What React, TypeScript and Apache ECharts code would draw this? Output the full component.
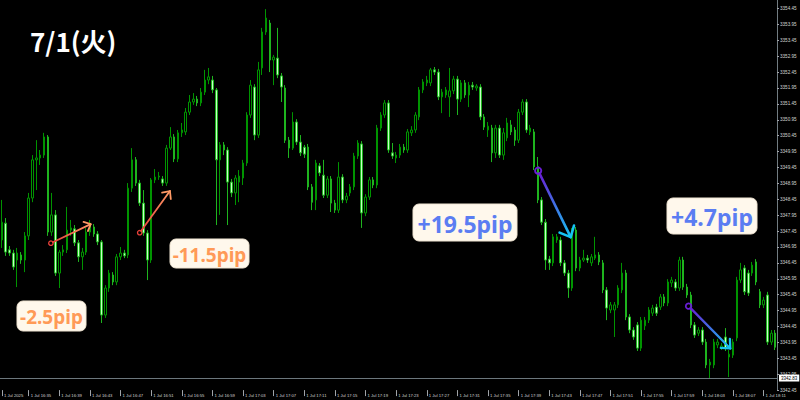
import React, { useEffect, useRef } from 'react';
import * as echarts from 'echarts';

// 30-second candles, first bar at 16:31:30 on 1 Jul 2025
const startSeconds = 16 * 3600 + 31 * 60 + 30;
const barSeconds = 30;

// [open, close, low, high]
const ohlc: number[][] = [
  [3347.17, 3347.73, 3346.92, 3348.43],
  [3347.70, 3346.79, 3346.67, 3347.86],
  [3346.86, 3346.76, 3346.67, 3346.98],
  [3346.76, 3346.32, 3346.23, 3346.86],
  [3346.54, 3346.76, 3345.69, 3346.92],
  [3346.70, 3346.54, 3346.42, 3346.79],
  [3346.54, 3347.30, 3346.16, 3347.42],
  [3347.30, 3348.49, 3347.17, 3348.65],
  [3348.49, 3349.69, 3348.36, 3349.84],
  [3349.69, 3349.75, 3348.74, 3350.31],
  [3349.75, 3349.84, 3349.53, 3350.00],
  [3349.84, 3350.41, 3349.75, 3350.54],
  [3350.41, 3347.42, 3347.30, 3350.47],
  [3347.42, 3347.96, 3347.30, 3348.65],
  [3347.96, 3346.13, 3346.04, 3348.11],
  [3346.13, 3346.79, 3345.66, 3346.86],
  [3346.79, 3346.86, 3346.67, 3347.01],
  [3346.86, 3347.48, 3346.76, 3348.21],
  [3347.48, 3347.55, 3347.30, 3347.80],
  [3347.52, 3347.08, 3346.98, 3347.64],
  [3347.08, 3346.64, 3346.48, 3347.17],
  [3346.64, 3346.79, 3346.23, 3346.92],
  [3346.79, 3347.42, 3346.70, 3347.55],
  [3347.42, 3347.70, 3347.30, 3347.80],
  [3347.58, 3347.36, 3347.27, 3347.67],
  [3347.36, 3347.11, 3347.01, 3347.45],
  [3347.11, 3344.81, 3344.56, 3347.17],
  [3344.81, 3345.66, 3344.72, 3345.75],
  [3345.66, 3346.13, 3345.54, 3346.23],
  [3346.07, 3345.85, 3345.75, 3346.16],
  [3345.85, 3346.64, 3345.75, 3346.73],
  [3346.64, 3346.76, 3346.54, 3346.95],
  [3346.76, 3346.67, 3346.60, 3346.86],
  [3346.70, 3348.80, 3346.60, 3348.96],
  [3348.80, 3349.69, 3348.68, 3350.06],
  [3349.69, 3348.96, 3348.87, 3349.78],
  [3348.96, 3348.33, 3348.24, 3349.06],
  [3348.33, 3347.39, 3347.30, 3348.74],
  [3347.39, 3346.54, 3345.91, 3347.48],
  [3346.54, 3349.06, 3346.45, 3349.12],
  [3349.06, 3349.15, 3348.96, 3349.40],
  [3349.15, 3349.18, 3349.06, 3349.31],
  [3349.09, 3348.96, 3348.87, 3349.18],
  [3348.96, 3350.06, 3348.87, 3350.16],
  [3350.06, 3350.41, 3350.00, 3350.72],
  [3350.41, 3349.72, 3349.62, 3350.50],
  [3349.72, 3350.54, 3349.62, 3350.63],
  [3350.54, 3350.63, 3350.41, 3350.85],
  [3350.57, 3351.19, 3350.47, 3351.32],
  [3351.19, 3351.51, 3351.10, 3351.73],
  [3351.51, 3351.60, 3351.42, 3351.79],
  [3351.60, 3351.48, 3351.38, 3351.70],
  [3351.48, 3351.82, 3351.38, 3351.95],
  [3351.82, 3352.20, 3351.73, 3352.52],
  [3352.20, 3352.30, 3352.07, 3352.58],
  [3352.20, 3351.89, 3351.79, 3352.33],
  [3351.89, 3349.69, 3347.64, 3351.95],
  [3349.69, 3350.16, 3347.96, 3350.25],
  [3350.16, 3350.00, 3349.84, 3350.25],
  [3350.00, 3348.99, 3347.64, 3350.09],
  [3348.99, 3348.65, 3348.52, 3349.09],
  [3348.65, 3349.12, 3348.27, 3349.21],
  [3348.99, 3349.18, 3348.36, 3349.37],
  [3349.12, 3349.59, 3348.90, 3349.69],
  [3349.59, 3351.10, 3349.50, 3351.19],
  [3351.10, 3352.04, 3351.01, 3352.20],
  [3351.98, 3350.47, 3350.31, 3352.07],
  [3350.47, 3352.52, 3350.38, 3352.77],
  [3352.58, 3353.71, 3352.36, 3353.84],
  [3353.71, 3354.15, 3353.62, 3354.43],
  [3353.99, 3352.83, 3352.45, 3354.09],
  [3352.83, 3352.92, 3352.04, 3352.99],
  [3352.89, 3352.36, 3352.26, 3353.84],
  [3352.33, 3351.98, 3351.51, 3352.42],
  [3351.95, 3350.31, 3350.22, 3352.04],
  [3350.31, 3350.06, 3349.75, 3350.41],
  [3350.06, 3350.88, 3350.00, 3351.19],
  [3350.88, 3350.25, 3350.16, 3350.97],
  [3350.25, 3349.91, 3349.81, 3350.47],
  [3350.09, 3349.87, 3349.75, 3350.16],
  [3350.09, 3348.84, 3348.74, 3350.19],
  [3348.84, 3348.36, 3348.11, 3348.93],
  [3348.43, 3349.59, 3348.11, 3349.69],
  [3349.50, 3349.28, 3349.18, 3349.59],
  [3349.21, 3348.58, 3348.49, 3349.69],
  [3348.58, 3349.09, 3348.49, 3349.18],
  [3349.09, 3348.33, 3348.05, 3349.18],
  [3348.33, 3348.11, 3348.02, 3348.43],
  [3348.11, 3349.15, 3348.02, 3349.62],
  [3349.15, 3348.43, 3348.33, 3349.24],
  [3348.43, 3348.55, 3348.33, 3348.65],
  [3348.65, 3348.84, 3348.55, 3348.93],
  [3348.84, 3349.81, 3348.74, 3349.91],
  [3349.81, 3350.22, 3349.72, 3350.31],
  [3350.19, 3348.02, 3347.55, 3350.28],
  [3348.02, 3348.52, 3347.92, 3348.61],
  [3348.52, 3349.06, 3348.43, 3349.15],
  [3349.06, 3348.90, 3348.80, 3349.15],
  [3348.90, 3350.69, 3348.80, 3350.79],
  [3350.69, 3351.10, 3350.60, 3351.19],
  [3351.10, 3351.48, 3351.01, 3351.57],
  [3351.48, 3350.00, 3349.91, 3351.57],
  [3349.91, 3349.81, 3349.72, 3350.22],
  [3349.75, 3349.84, 3349.59, 3349.94],
  [3349.84, 3350.09, 3349.75, 3350.19],
  [3350.09, 3350.00, 3349.91, 3350.19],
  [3350.00, 3350.57, 3349.91, 3350.66],
  [3350.54, 3350.63, 3350.44, 3350.75],
  [3350.63, 3351.10, 3350.54, 3351.19],
  [3351.04, 3351.89, 3350.94, 3351.98],
  [3351.89, 3352.14, 3351.79, 3352.23],
  [3352.11, 3352.20, 3352.01, 3352.33],
  [3352.11, 3352.52, 3352.01, 3352.58],
  [3352.52, 3352.45, 3352.36, 3352.61],
  [3352.45, 3351.67, 3351.57, 3352.55],
  [3351.67, 3351.82, 3351.16, 3351.92],
  [3351.73, 3351.89, 3351.64, 3351.98],
  [3351.67, 3351.86, 3351.04, 3352.58],
  [3351.86, 3352.23, 3351.76, 3352.33],
  [3352.23, 3351.60, 3351.10, 3352.33],
  [3351.60, 3352.11, 3351.51, 3352.20],
  [3352.11, 3351.73, 3351.64, 3352.20],
  [3351.73, 3352.04, 3351.35, 3352.14],
  [3352.04, 3351.98, 3351.89, 3352.14],
  [3351.95, 3352.01, 3351.86, 3352.07],
  [3351.98, 3351.04, 3350.94, 3352.07],
  [3351.04, 3350.72, 3350.63, 3351.13],
  [3350.63, 3350.75, 3350.41, 3350.88],
  [3350.69, 3349.91, 3349.62, 3350.79],
  [3349.91, 3350.69, 3349.75, 3350.79],
  [3350.69, 3349.84, 3349.75, 3350.79],
  [3349.84, 3350.54, 3349.69, 3350.69],
  [3350.38, 3350.85, 3350.28, 3351.01],
  [3350.79, 3350.57, 3350.47, 3350.94],
  [3350.63, 3350.31, 3350.13, 3350.72],
  [3350.31, 3351.19, 3350.22, 3351.29],
  [3351.19, 3351.51, 3351.10, 3351.60],
  [3351.51, 3350.63, 3350.54, 3351.60],
  [3350.57, 3350.69, 3350.47, 3350.79],
  [3350.57, 3349.47, 3349.37, 3350.66],
  [3349.47, 3348.43, 3348.33, 3349.78],
  [3348.43, 3347.73, 3347.64, 3348.52],
  [3347.73, 3346.54, 3346.23, 3347.83],
  [3346.57, 3346.45, 3346.23, 3346.67],
  [3346.45, 3347.27, 3346.35, 3347.36],
  [3347.17, 3347.27, 3347.08, 3347.36],
  [3347.17, 3346.45, 3346.35, 3347.27],
  [3346.45, 3346.13, 3346.04, 3346.54],
  [3346.13, 3345.66, 3345.35, 3346.23],
  [3345.66, 3347.48, 3345.57, 3347.55],
  [3347.48, 3346.29, 3346.19, 3347.58],
  [3346.29, 3346.54, 3346.19, 3346.64],
  [3346.54, 3346.60, 3346.48, 3346.86],
  [3346.60, 3346.54, 3346.45, 3346.70],
  [3346.45, 3346.64, 3346.35, 3346.73],
  [3346.60, 3346.70, 3346.54, 3347.27],
  [3346.70, 3346.48, 3346.38, 3346.79],
  [3346.45, 3345.60, 3345.50, 3346.54],
  [3345.60, 3345.03, 3344.65, 3345.69],
  [3344.97, 3345.13, 3344.87, 3345.22],
  [3344.97, 3345.13, 3344.12, 3345.22],
  [3345.13, 3345.66, 3345.03, 3345.75],
  [3345.60, 3346.13, 3345.50, 3346.45],
  [3346.13, 3344.75, 3344.65, 3346.23],
  [3344.75, 3344.34, 3344.24, 3344.84],
  [3344.34, 3344.12, 3344.03, 3344.43],
  [3344.50, 3343.77, 3343.68, 3344.59],
  [3343.77, 3344.65, 3343.68, 3344.75],
  [3344.47, 3344.65, 3344.34, 3344.75],
  [3344.65, 3344.97, 3344.56, 3345.06],
  [3344.87, 3345.03, 3344.78, 3345.13],
  [3345.06, 3344.87, 3344.78, 3345.16],
  [3345.06, 3345.38, 3344.97, 3345.47],
  [3345.38, 3345.19, 3345.09, 3345.47],
  [3345.19, 3345.85, 3345.09, 3345.94],
  [3345.82, 3345.91, 3345.69, 3346.01],
  [3345.85, 3345.66, 3345.57, 3345.94],
  [3345.66, 3346.54, 3345.57, 3346.64],
  [3346.54, 3345.69, 3345.60, 3346.64],
  [3345.69, 3345.44, 3345.35, 3345.79],
  [3345.44, 3344.50, 3344.40, 3345.54],
  [3344.50, 3344.18, 3344.09, 3344.59],
  [3344.24, 3344.34, 3344.15, 3344.43],
  [3344.34, 3343.96, 3343.87, 3344.43],
  [3343.96, 3343.24, 3343.14, 3344.06],
  [3343.24, 3343.33, 3342.83, 3343.43],
  [3343.24, 3343.96, 3343.14, 3344.06],
  [3343.87, 3343.96, 3343.77, 3344.06],
  [3343.77, 3343.84, 3343.71, 3343.93],
  [3344.12, 3343.77, 3343.68, 3344.40],
  [3343.49, 3343.58, 3342.86, 3343.71],
  [3343.55, 3343.96, 3343.46, 3344.06],
  [3344.09, 3345.91, 3343.99, 3346.01],
  [3345.91, 3346.23, 3345.82, 3346.45],
  [3346.29, 3345.54, 3345.44, 3346.38],
  [3346.13, 3345.50, 3345.41, 3346.23],
  [3346.13, 3346.38, 3346.04, 3346.48],
  [3346.48, 3345.85, 3345.75, 3346.57],
  [3345.54, 3345.13, 3345.03, 3345.63],
  [3345.13, 3345.28, 3345.03, 3345.38],
  [3345.44, 3343.96, 3343.87, 3345.54],
  [3343.96, 3344.24, 3343.87, 3344.34],
  [3344.24, 3343.80, 3343.71, 3344.34],
];

const priceMin = 3342.45;
const priceMax = 3354.717;
const priceStep = 0.5;
const refLinePrice = 3342.83;

const titleText = '7/1(火)';
const firstDateLabel = '1 Jul 2025';
const dayPrefix = '1 Jul ';

const pipLabels = ['-2.5pip', '-11.5pip', '+19.5pip', '+4.7pip'];
// arrow anchors in data space: [bar index, price]
const arrowFrom = [[12.8, 3347.07], [36.0, 3347.40], [140.1, 3349.35], [179.4, 3345.09]];
const arrowTo = [[23.2, 3347.67], [43.9, 3348.71], [148.6, 3347.26], [190.3, 3343.76]];

const pad = (n: number) => (n < 10 ? '0' + n : '' + n);
const categories = ohlc.map((_, i) => {
  const t = startSeconds + i * barSeconds;
  return `${pad(Math.floor(t / 3600))}:${pad(Math.floor((t % 3600) / 60))}:${pad(t % 60)}`;
});

const showTimeLabel = (index: number) => {
  if (index === 0) return true;
  const v = categories[index];
  if (!v) return false;
  const m = parseInt(v.slice(3, 5), 10);
  return v.slice(6) === '00' && m % 4 === 3;
};

export default function App() {
  const ref = useRef<HTMLDivElement>(null);

  useEffect(() => {
    document.body.style.margin = '0';
    const chart = echarts.init(ref.current!, undefined, { renderer: 'svg' });
    const option: any = {
      backgroundColor: '#000000',
      animation: false,
      grid: { left: -2.81, right: 23, top: 0, bottom: 9.9, containLabel: false },
      xAxis: {
        type: 'category',
        data: categories,
        boundaryGap: true,
        axisLine: { show: false },
        axisTick: {
          show: true,
          alignWithLabel: true,
          interval: (i: number) => showTimeLabel(i),
          length: 6,
          lineStyle: { color: '#a0a4a8', width: 1 },
        },
        axisLabel: {
          interval: (i: number) => showTimeLabel(i),
          formatter: (v: string, i: number) => (i === 0 ? firstDateLabel : dayPrefix + v.slice(0, 5)),
          color: '#d4d4d4',
          fontSize: 4.2,
          fontFamily: 'Liberation Sans',
          align: 'left',
          margin: 3,
          padding: [0, 0, 0, 2],
        },
        splitLine: { show: false },
      },
      yAxis: {
        type: 'value',
        position: 'right',
        min: priceMin,
        max: priceMax,
        interval: priceStep,
        axisLine: { show: true, lineStyle: { color: '#727c82', width: 1 } },
        axisTick: { show: true, length: 2, lineStyle: { color: '#a0a4a8' } },
        axisLabel: {
          color: '#d4d4d4',
          fontSize: 4.6,
          fontFamily: 'Liberation Sans',
          margin: 3,
          showMaxLabel: false,
          formatter: (v: number) => v.toFixed(2),
        },
        splitLine: { show: false },
      },
      series: [
        {
          type: 'candlestick',
          data: ohlc,
          barWidth: 2,
          itemStyle: {
            color: '#000000',
            color0: '#c8ffc8',
            borderColor: '#009400',
            borderColor0: '#1eb41e',
            borderWidth: 1,
          },
          markLine: {
            silent: true,
            symbol: 'none',
            animation: false,
            data: [{ yAxis: refLinePrice }],
            lineStyle: { color: '#6c777d', width: 1, type: 'solid' },
            label: {
              show: true,
              position: 'end',
              formatter: refLinePrice.toFixed(2),
              color: '#000',
              backgroundColor: '#ffffff',
              fontSize: 4.5,
              padding: [1, 2],
              distance: 2,
            },
          },
        },
      ],
    };
    chart.setOption(option);

    const toPx = (pt: number[]) => {
      const i0 = Math.floor(pt[0]);
      const a = chart.convertToPixel({ gridIndex: 0 }, [i0, pt[1]]) as number[];
      const b = chart.convertToPixel({ gridIndex: 0 }, [i0 + 1, pt[1]]) as number[];
      const f = pt[0] - i0;
      return [a[0] + (b[0] - a[0]) * f, a[1]];
    };

    const arrowStyles = [
      { c0: '#e8413a', c1: '#ff9a66', w: 1.8, r: 2.2, head: 7.5 },
      { c0: '#e8413a', c1: '#ff9a66', w: 1.8, r: 2.2, head: 8 },
      { c0: '#6a1ed6', c1: '#16c4f2', w: 2.6, r: 3.1, head: 12 },
      { c0: '#6a1ed6', c1: '#16c4f2', w: 2.3, r: 2.8, head: 9.5 },
    ];

    const graphics: any[] = [];
    arrowFrom.forEach((from, k) => {
      const st = arrowStyles[k];
      const p0 = toPx(from);
      const p1 = toPx(arrowTo[k]);
      const dx = p1[0] - p0[0];
      const dy = p1[1] - p0[1];
      const len = Math.hypot(dx, dy);
      const ux = dx / len;
      const uy = dy / len;
      const sx = p0[0] + ux * st.r;
      const sy = p0[1] + uy * st.r;
      const grad = new echarts.graphic.LinearGradient(
        dx >= 0 ? 0 : 1, dy >= 0 ? 0 : 1, dx >= 0 ? 1 : 0, dy >= 0 ? 1 : 0,
        [{ offset: 0, color: st.c0 }, { offset: 1, color: st.c1 }]
      );
      graphics.push({
        type: 'line',
        z: 100,
        shape: { x1: sx, y1: sy, x2: p1[0], y2: p1[1] },
        style: { stroke: grad, lineWidth: st.w, lineCap: 'round' },
      });
      const back = Math.atan2(-uy, -ux);
      const ang = (42 * Math.PI) / 180;
      const armA = [p1[0] + Math.cos(back + ang) * st.head, p1[1] + Math.sin(back + ang) * st.head];
      const armB = [p1[0] + Math.cos(back - ang) * st.head, p1[1] + Math.sin(back - ang) * st.head];
      graphics.push({
        type: 'polyline',
        z: 101,
        shape: { points: [armA, p1, armB] },
        style: { stroke: st.c1, lineWidth: st.w, fill: 'none', lineCap: 'round', lineJoin: 'round' },
      });
      graphics.push({
        type: 'circle',
        z: 101,
        shape: { cx: p0[0], cy: p0[1], r: st.r },
        style: { stroke: st.c0, fill: 'none', lineWidth: st.w * 0.75 },
      });
    });

    const boxes = [
      { x: 17, y: 301, w: 69, h: 30, size: 19, color: '#ff9a57' },
      { x: 170, y: 239, w: 79, h: 29, size: 19, color: '#ff9a57' },
      { x: 413, y: 204, w: 104, h: 37, size: 23, color: '#5b7df2' },
      { x: 667, y: 198, w: 90, h: 36, size: 23, color: '#5b7df2' },
    ];
    boxes.forEach((b, k) => {
      graphics.push({
        type: 'rect',
        z: 110,
        shape: { x: b.x, y: b.y, width: b.w, height: b.h, r: 6 },
        style: { fill: '#fff8ec', stroke: '#f1e6d4', lineWidth: 1 },
      });
      graphics.push({
        type: 'text',
        z: 111,
        x: b.x + b.w / 2,
        y: b.y + b.h / 2 + 1,
        style: {
          text: pipLabels[k],
          fill: b.color,
          font: `bold ${b.size}px "Noto Sans", sans-serif`,
          align: 'center',
          verticalAlign: 'middle',
        },
      });
    });

    graphics.push({
      type: 'text',
      z: 120,
      x: 30,
      y: 40,
      style: {
        text: titleText,
        fill: '#ffffff',
        font: 'bold 26px "Noto Sans CJK JP", sans-serif',
        align: 'left',
        verticalAlign: 'middle',
      },
    });

    chart.setOption({ graphic: graphics });

    return () => chart.dispose();
  }, []);

  return (
    <div
      ref={ref}
      style={{ position: 'fixed', left: 0, top: 0, width: 800, height: 400, background: '#000' }}
    />
  );
}
